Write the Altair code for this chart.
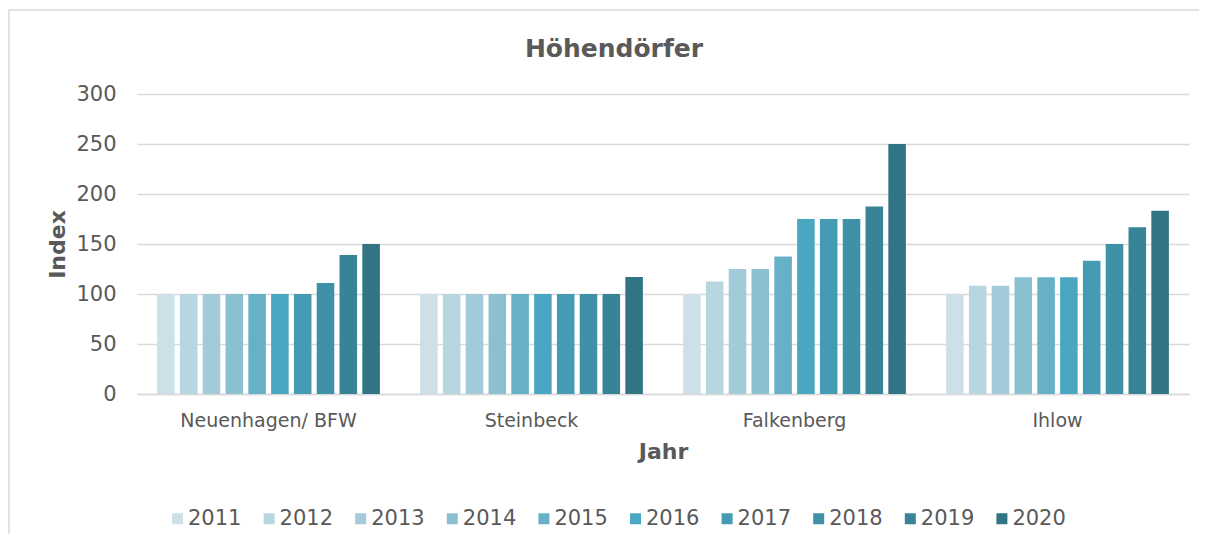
import altair as alt
import pandas as pd

villages = ["Neuenhagen/ BFW", "Steinbeck", "Falkenberg", "Ihlow"]
years = ["2011", "2012", "2013", "2014", "2015", "2016", "2017", "2018", "2019", "2020"]
neuenhagen = [100, 100, 100, 100, 100, 100, 100, 111, 139, 150]
steinbeck = [100, 100, 100, 100, 100, 100, 100, 100, 100, 117]
falkenberg = [100, 112.5, 125, 125, 137.5, 175, 175, 175, 187.5, 250]
ihlow = [100, 108.3, 108.3, 116.7, 116.7, 116.7, 133.3, 150, 166.7, 183.3]
colors = ["#CDE0E8", "#B8D6E0", "#A3CAD9", "#8BC0D1", "#67B1C8",
          "#4BA7C1", "#449BB3", "#3F91A7", "#378497", "#317484"]

rows = []
for v, vals in zip(villages, [neuenhagen, steinbeck, falkenberg, ihlow]):
    for y, val in zip(years, vals):
        rows.append({"Dorf": v, "Jahr": y, "Index": val})
df = pd.DataFrame(rows)

FONT = "DejaVu Sans"
GRAY = "#595959"
GRID = "#D9D9D9"

bars = alt.Chart(df).mark_bar().encode(
    x=alt.X("Dorf:N", sort=villages,
            scale=alt.Scale(paddingInner=0.153, paddingOuter=0.0765),
            axis=alt.Axis(title="Jahr", labelAngle=0, ticks=False,
                          domain=True, domainColor=GRID, domainWidth=1.5,
                          labelFontSize=19, labelColor=GRAY, labelFont=FONT,
                          labelPadding=17, titleFontSize=22, titleFont=FONT,
                          titleFontWeight="bold", titleColor=GRAY,
                          titlePadding=11)),
    xOffset=alt.XOffset("Jahr:N", sort=years,
                        scale=alt.Scale(paddingInner=0.23, paddingOuter=0)),
    y=alt.Y("Index:Q", scale=alt.Scale(domain=[0, 300]),
            axis=alt.Axis(title="Index", values=[0, 50, 100, 150, 200, 250, 300],
                          ticks=False, domain=False, gridColor=GRID,
                          gridWidth=1.5, labelFontSize=21, labelColor=GRAY,
                          labelFont=FONT, labelPadding=21, titleFontSize=22,
                          titleFont=FONT, titleFontWeight="bold",
                          titleColor=GRAY, titlePadding=6)),
    color=alt.Color("Jahr:N", sort=years,
                    scale=alt.Scale(domain=years, range=colors),
                    legend=alt.Legend(title=None, orient="none", direction="horizontal",
                                      columns=10, legendX=30, legendY=414,
                                      symbolType="square", symbolSize=121,
                                      symbolStrokeWidth=0, labelFontSize=21,
                                      labelFont=FONT, labelColor=GRAY,
                                      labelOffset=0, columnPadding=16.6)),
)

border_df = pd.DataFrame({"b": [1]})
border = alt.Chart(border_df).mark_rect(fill=None, stroke=GRID, strokeWidth=1.5).encode(
    x=alt.value(-128), x2=alt.value(1080), y=alt.value(-84), y2=alt.value(460)
)

chart = alt.layer(bars, border).properties(
    width=1052, height=300,
    autosize=alt.AutoSizeParams(type="none"),
    padding={"left": 129, "top": 86, "right": 10, "bottom": 140},
    background="white",
    title=alt.TitleParams("Höhendörfer", font=FONT, fontSize=25, fontWeight="bold",
                          color=GRAY, anchor="middle", frame="group", dx=-49,
                          offset=-72.75, baseline="alphabetic"),
).configure_view(stroke=None)

chart.save("out.html", embed_options={"renderer": "svg", "actions": False})
